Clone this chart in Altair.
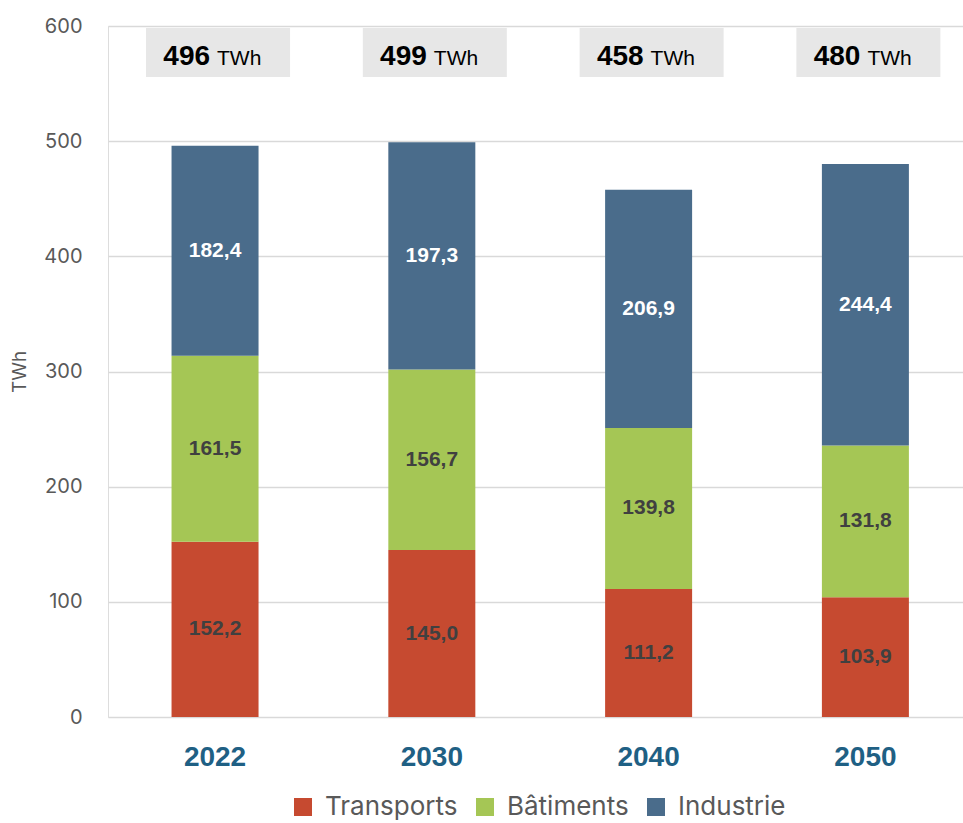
import altair as alt
import pandas as pd

years = ["2022", "2030", "2040", "2050"]
sectors = ["Transports", "Bâtiments", "Industrie"]
transports = [152.2, 145.0, 111.2, 103.9]
batiments = [161.5, 156.7, 139.8, 131.8]
industrie = [182.4, 197.3, 206.9, 244.4]
totals = [496, 499, 458, 480]

colors = ["#C64A30", "#A5C655", "#4A6C8B"]
label_colors = ["#404040", "#404040", "#FFFFFF"]

rows = []
for i, y in enumerate(years):
    for k, (s, vals) in enumerate(zip(sectors, [transports, batiments, industrie])):
        rows.append({
            "year": y, "sector": s, "order": k, "value": vals[i],
            "label": f"{vals[i]:.1f}".replace(".", ","),
            "lcolor": label_colors[k],
        })
df = pd.DataFrame(rows)
tot = pd.DataFrame({"year": years, "total": [str(t) for t in totals], "unit": ["TWh"] * 4})

W, H = 855, 691
NUM = "Liberation Sans"
TXT = "Inter"

xscale = alt.Scale(domain=years, paddingInner=0.6, paddingOuter=0.272, align=0.54)
xenc = alt.X("year:N", scale=xscale, sort=years,
             axis=alt.Axis(title=None, labelAngle=0, labelFont=NUM, labelFontSize=28,
                           labelFontWeight="bold", labelColor="#1F6084", labelPadding=26,
                           domain=False, ticks=False, grid=False))
yscale = alt.Scale(domain=[0, 600], nice=False)

bars = alt.Chart(df).mark_bar(size=87).encode(
    x=xenc,
    y=alt.Y("value:Q", stack="zero", scale=yscale,
            axis=alt.Axis(title="TWh", values=[0, 100, 200, 300, 400, 500, 600],
                          labelFont=TXT, labelFontSize=20, labelColor="#595959",
                          labelPadding=26, titleFont=TXT, titleFontSize=19,
                          titleFontWeight="normal", titleColor="#595959", titlePadding=14,
                          domain=False, ticks=False, grid=True, gridColor="#D9D9D9",
                          gridWidth=1.5)),
    color=alt.Color("sector:N", scale=alt.Scale(domain=sectors, range=colors),
                    legend=alt.Legend(title=None, orient="none", direction="horizontal",
                                      legendX=182, legendY=768, symbolType="square",
                                      symbolSize=324, symbolStrokeWidth=0,
                                      labelFont=TXT, labelFontSize=26, labelColor="#595959",
                                      labelOffset=9, columnPadding=14, labelLimit=300)),
    order=alt.Order("order:Q"),
)

labels = alt.Chart(df).transform_stack(
    stack="value", groupby=["year"], sort=[alt.SortField("order")], as_=["v0", "v1"]
).transform_calculate(mid="(datum.v0 + datum.v1) / 2").mark_text(
    font=NUM, fontSize=21, fontWeight="bold", baseline="middle"
).encode(
    x=alt.X("year:N", scale=xscale, sort=years),
    y=alt.Y("mid:Q", scale=yscale),
    text="label:N",
    color=alt.Color("lcolor:N", scale=None),
)

boxes = alt.Chart(tot).mark_bar(size=144, color="#E7E7E7", xOffset=3).encode(
    x=alt.X("year:N", scale=xscale, sort=years),
    y=alt.value(2), y2=alt.value(51),
)
tot_num = alt.Chart(tot).mark_text(font=NUM, fontSize=28, fontWeight="bold", color="#000000",
                                   align="right", baseline="alphabetic", dx=-5).encode(
    x=alt.X("year:N", scale=xscale, sort=years), y=alt.value(39), text="total:N")
tot_unit = alt.Chart(tot).mark_text(font=NUM, fontSize=21, color="#000000",
                                    align="left", baseline="alphabetic", dx=2).encode(
    x=alt.X("year:N", scale=xscale, sort=years), y=alt.value(39), text="unit:N")

chart = alt.layer(bars, labels, boxes, tot_num, tot_unit).properties(
    width=W, height=H,
    autosize=alt.AutoSizeParams(type="none"),
    padding={"left": 108, "top": 26, "right": 0, "bottom": 106},
).configure_view(stroke=None).configure(background="white")

chart.save("out.html", embed_options={"renderer": "svg", "actions": False})
